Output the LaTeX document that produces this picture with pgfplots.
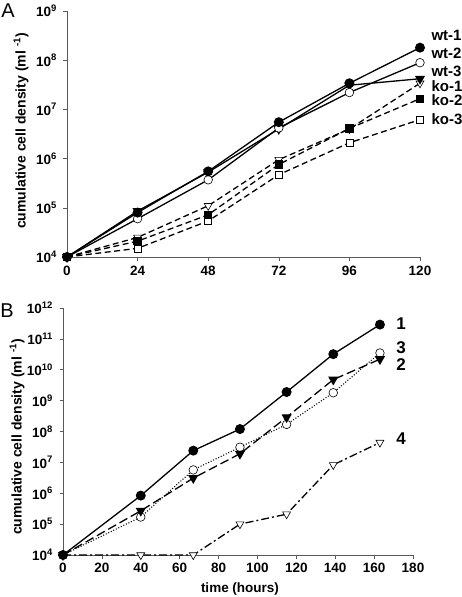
\documentclass[border=0pt]{standalone}
\usepackage{pgfplots}
\pgfplotsset{compat=1.18}
\usepackage{fontspec}
\setmainfont{Liberation Sans}
\tikzset{
  solidl/.style={black, line width=1.3pt},
  dashl/.style={black, line width=1.3pt, dash pattern=on 6pt off 3.5pt},
  fcirc/.style={mark=*, mark size=4.3pt, mark options={solid, fill=black, draw=black}},
  ocirc/.style={mark=*, mark size=4.3pt, mark options={solid, fill=white, draw=black, line width=0.6pt}},
  ftri/.style={mark=triangle*, mark size=4.6pt, mark options={solid, rotate=180, fill=black, draw=black}},
  otri/.style={mark=triangle*, mark size=4.6pt, mark options={solid, rotate=180, fill=white, draw=black, line width=0.6pt}},
  fsq/.style={mark=square*, mark size=3.5pt, mark options={solid, fill=black, draw=black}},
  osq/.style={mark=square*, mark size=3.5pt, mark options={solid, fill=white, draw=black, line width=0.6pt}},
}
\begin{document}
\begin{tikzpicture}
\path[use as bounding box] (0pt,0pt) rectangle (461pt,-597pt);
% ---------- Panel A ----------
\begin{axis}[at={(67pt,-257pt)}, anchor=south west,
  scale only axis, width=353pt, height=246pt,
  ymode=log,
  axis x line*=bottom, axis y line*=left,
  axis line style={gray!70!black, line width=0.7pt, -},
  tick style={gray!70!black, line width=0.6pt},
  major tick length=3.5pt, tick align=outside,
  yminorticks=false,
  ticklabel style={font=\bfseries\fontsize{13.5}{14}\selectfont},
  xticklabel style={yshift=-2pt},
  yticklabel style={xshift=-3pt},
  clip=false,
  xmin=0, xmax=120, ymin=1e4, ymax=1e9,
  xtick={0,24,48,72,96,120}, xticklabels={0,24,48,72,96,120},
  ytick={1e4,1e5,1e6,1e7,1e8,1e9},
  yticklabels={10\textsuperscript{4},10\textsuperscript{5},10\textsuperscript{6},10\textsuperscript{7},10\textsuperscript{8},10\textsuperscript{9}},
]
\addplot[dashl, osq] coordinates {(0,1e4)(24,1.5e4)(48,5.4e4)(72,4.7e5)(96,2.1e6)(120,6.2e6)};
\addplot[dashl, otri] coordinates {(0,1e4)(24,2.5e4)(48,1.1e5)(72,9.5e5)(96,4e6)(120,3.4e7)};
\addplot[dashl, fsq] coordinates {(0,1e4)(24,2.1e4)(48,7.2e4)(72,7.6e5)(96,4.1e6)(120,1.65e7)};
\addplot[solidl, ftri] coordinates {(0,1e4)(24,8.6e4)(48,5.3e5)(72,4e6)(96,3.1e7)(120,4.2e7)};
\addplot[solidl, ocirc] coordinates {(0,1e4)(24,6e4)(48,3.7e5)(72,4.2e6)(96,2.2e7)(120,8.9e7)};
\addplot[solidl, fcirc] coordinates {(0,1e4)(24,8e4)(48,5.5e5)(72,5.5e6)(96,3.4e7)(120,1.8e8)};
\end{axis}
\node[rotate=90, font=\bfseries\fontsize{14}{15}\selectfont] at (21pt,-131pt) {cumulative cell density (ml \textsuperscript{-1})};
\node[anchor=west, font=\bfseries\fontsize{15}{16}\selectfont] at (428pt,-35pt) {wt-1};
\node[anchor=west, font=\bfseries\fontsize{15}{16}\selectfont] at (428pt,-53pt) {wt-2};
\node[anchor=west, font=\bfseries\fontsize{15}{16}\selectfont] at (428pt,-71pt) {wt-3};
\node[anchor=west, font=\bfseries\fontsize{15}{16}\selectfont] at (428pt,-86pt) {ko-1};
\node[anchor=west, font=\bfseries\fontsize{15}{16}\selectfont] at (428pt,-100pt) {ko-2};
\node[anchor=west, font=\bfseries\fontsize{15}{16}\selectfont] at (428pt,-119pt) {ko-3};
\node[font=\fontsize{20}{21}\selectfont] at (8pt,-11pt) {A};
% ---------- Panel B ----------
\begin{axis}[at={(63pt,-555pt)}, anchor=south west,
  scale only axis, width=350pt, height=247pt,
  ymode=log,
  axis x line*=bottom, axis y line*=left,
  axis line style={gray!70!black, line width=0.7pt, -},
  tick style={gray!70!black, line width=0.6pt},
  major tick length=3.5pt, tick align=outside,
  yminorticks=false,
  ticklabel style={font=\bfseries\fontsize{13.5}{14}\selectfont},
  xticklabel style={yshift=-1pt},
  yticklabel style={xshift=-3pt},
  clip=false,
  xmin=0, xmax=180, ymin=1e4, ymax=1e12,
  xtick={0,20,40,60,80,100,120,140,160,180}, xticklabels={0,20,40,60,80,100,120,140,160,180},
  ytick={1e4,1e5,1e6,1e7,1e8,1e9,1e10,1e11,1e12},
  yticklabels={10\textsuperscript{4},10\textsuperscript{5},10\textsuperscript{6},10\textsuperscript{7},10\textsuperscript{8},10\textsuperscript{9},10\textsuperscript{10},10\textsuperscript{11},10\textsuperscript{12}},
]
\addplot[black, line width=1.3pt, dash pattern=on 8pt off 3pt on 2pt off 3pt, otri] coordinates {(0,1e4)(40,1e4)(67,1e4)(91,1e5)(115,2.1e5)(139,8.3e6)(163,4.4e7)};
\addplot[black, line width=1.1pt, dash pattern=on 1pt off 1.8pt, ocirc] coordinates {(0,1e4)(40,1.7e5)(67,5.7e6)(91,3.1e7)(115,1.7e8)(139,1.8e9)(163,3.5e10)};
\addplot[black, line width=1.3pt, dash pattern=on 9pt off 4pt, ftri] coordinates {(0,1e4)(40,2.7e5)(67,3.1e6)(91,1.9e7)(115,2.9e8)(139,4.8e9)(163,2.2e10)};
\addplot[solidl, fcirc] coordinates {(0,1e4)(40,8.4e5)(67,2.4e7)(91,1.2e8)(115,1.9e9)(139,3.2e10)(163,2.9e11)};
\end{axis}
\node[rotate=90, font=\bfseries\fontsize{14}{15}\selectfont] at (17pt,-437pt) {cumulative cell density (ml \textsuperscript{-1})};
\node[font=\bfseries\fontsize{13.5}{14}\selectfont] at (240pt,-589pt) {time (hours)};
\node[font=\bfseries\fontsize{17}{18}\selectfont] at (401pt,-324pt) {1};
\node[font=\bfseries\fontsize{17}{18}\selectfont] at (401pt,-348pt) {3};
\node[font=\bfseries\fontsize{17}{18}\selectfont] at (401pt,-365pt) {2};
\node[font=\bfseries\fontsize{17}{18}\selectfont] at (401pt,-439pt) {4};
\node[font=\fontsize{20}{21}\selectfont] at (7pt,-311pt) {B};
\end{tikzpicture}
\end{document}
